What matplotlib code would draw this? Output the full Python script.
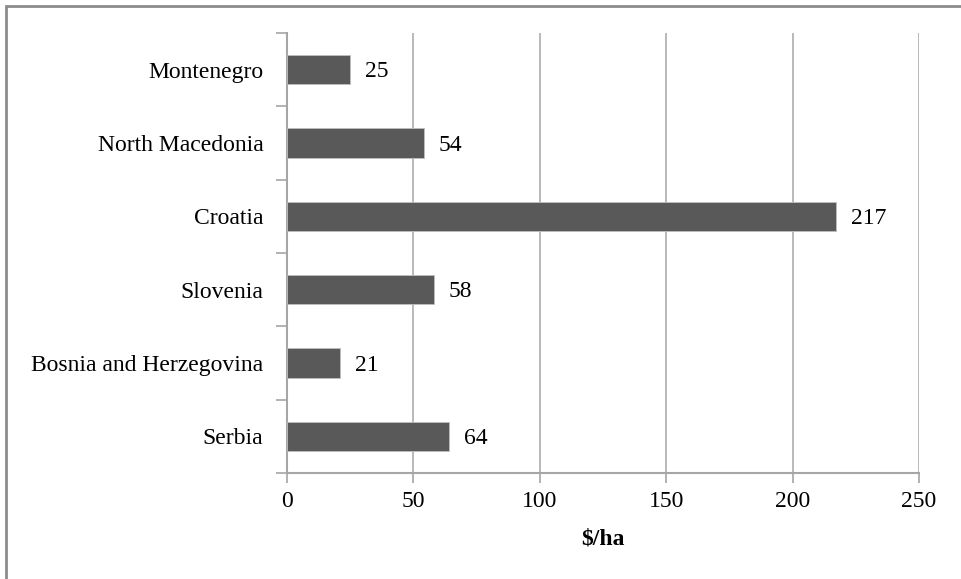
import matplotlib
matplotlib.use('Agg')
import matplotlib.pyplot as plt
from matplotlib.patches import Rectangle

countries = ['Serbia', 'Bosnia and Herzegovina', 'Slovenia', 'Croatia',
             'North Macedonia', 'Montenegro']
values = [64, 21, 58, 217, 54, 25]

plt.rcParams['font.family'] = 'Liberation Serif'
plt.rcParams['font.size'] = 17

fig = plt.figure(figsize=(9.62, 5.79), dpi=100)
ax = fig.add_axes([287/962, 1 - 473/579, (919-287)/962, (473-33)/579])

gray = '#a6a6a6'
ypos = range(len(countries))
ax.barh(ypos, values, height=0.4, color='#595959', edgecolor='#bfbfbf',
        linewidth=0.6, zorder=3)

for y, v in zip(ypos, values):
    ax.text(v + 6, y - 0.03, str(v), va='center', ha='left', fontsize=17)

ax.set_xlim(0, 250)
ax.set_ylim(-0.5, len(countries) - 0.5)
ax.set_xticks([0, 50, 100, 150, 200, 250])
ax.set_yticks([i - 0.5 for i in range(len(countries) + 1)])
ax.set_yticklabels([])
ax.set_yticks(list(ypos), minor=True)
ax.set_yticklabels(countries, minor=True)
ax.tick_params(axis='y', which='minor', length=0, pad=17)
ax.tick_params(axis='y', which='major', length=8, color=gray, width=1.2)
ax.tick_params(axis='x', length=7, color=gray, width=1.2, pad=6)

ax.grid(axis='x', color=gray, linewidth=1.1, zorder=0)
for s in ['top', 'right']:
    ax.spines[s].set_visible(False)
for s in ['left', 'bottom']:
    ax.spines[s].set_color(gray)
    ax.spines[s].set_linewidth(1.5)

ax.set_xlabel('$/ha', fontweight='bold', fontsize=17, labelpad=12)

# outer frame, only top and left edges are inside the picture
fig.patches.append(Rectangle((5.5/962, -0.1), 1.2, 1.1 - 5.5/579, transform=fig.transFigure,
                             fill=False, edgecolor='#8c8c8c', linewidth=2))

fig.savefig('out.png', dpi=100)
